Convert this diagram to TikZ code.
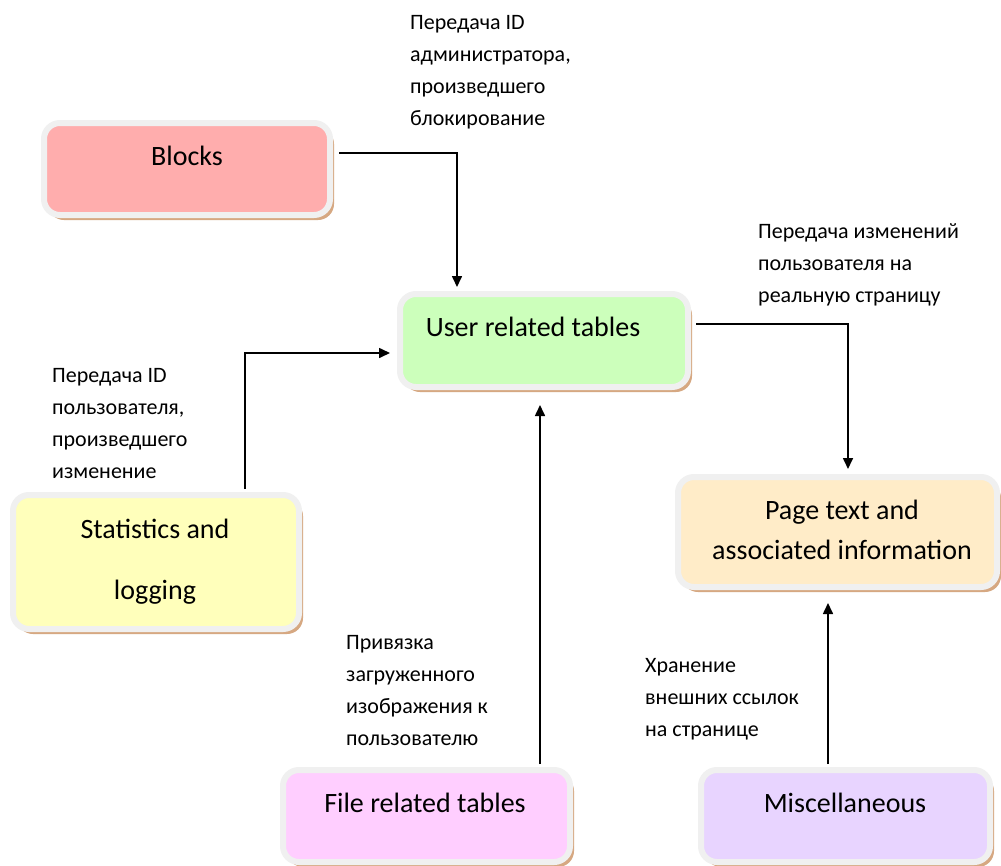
\documentclass[tikz,border=0pt]{standalone}
\usepackage{fontspec}
\setmainfont{Carlito}
\usetikzlibrary{shadows,arrows.meta}
\definecolor{boxgray}{RGB}{240,240,240}
\definecolor{shadowbrown}{RGB}{214,168,130}
\definecolor{cblocks}{RGB}{255,173,173}
\definecolor{cuser}{RGB}{204,255,187}
\definecolor{cstats}{RGB}{255,255,187}
\definecolor{cpage}{RGB}{255,236,200}
\definecolor{cfile}{RGB}{255,206,255}
\definecolor{cmisc}{RGB}{232,212,255}
\begin{document}
\begin{tikzpicture}[x=1pt,y=-1pt,
  box/.style={rectangle, rounded corners=16pt, draw=boxgray, line width=6pt, inner sep=0pt,
    drop shadow={shadow xshift=4pt, shadow yshift=-5pt, fill=shadowbrown, opacity=1}},
  boxtext/.style={font=\fontsize{28}{34}\selectfont, align=center, inner sep=0pt},
  lbl/.style={font=\fontsize{22}{32}\selectfont, align=left, anchor=north west, inner sep=0pt},
  arr/.style={line width=1.6pt, -{Triangle[length=11pt,width=10pt]}}]
\useasboundingbox (0,0) rectangle (1001,865);
\fill[white] (0,0) rectangle (1001,865);

% boxes
\node[box, fill=cblocks, minimum width=286pt, minimum height=92pt] (blocks) at (187,169) {};
\node[box, fill=cuser, minimum width=288pt, minimum height=93pt] (user) at (544,340.5) {};
\node[box, fill=cstats, minimum width=286pt, minimum height=134pt] (stats) at (156,562) {};
\node[box, fill=cpage, minimum width=319pt, minimum height=110pt] (page) at (837.5,532) {};
\node[box, fill=cfile, minimum width=287pt, minimum height=92pt] (file) at (426.5,816) {};
\node[box, fill=cmisc, minimum width=289pt, minimum height=92pt] (misc) at (845.5,816) {};

% box texts
\node[boxtext] (tblocks) at (187,156) {Blocks};
\node[boxtext] (tuser) at (533,327) {User related tables};
\node[boxtext, font=\fontsize{28}{61}\selectfont] (tstats) at (155,561.5) {Statistics and\\logging};
\node[boxtext, font=\fontsize{28}{40}\selectfont] (tpage) at (842,530) {Page text and\\associated information};
\node[boxtext] (tfile) at (425,803) {File related tables};
\node[boxtext] (tmisc) at (845,803) {Miscellaneous};

% connectors
\draw[arr] ([xshift=6pt,yshift=16pt]blocks.east) -| ([xshift=-87pt,yshift=4pt]user.north);
\draw[arr] ([xshift=89pt,yshift=3pt]stats.north) |- ([xshift=-7pt,yshift=-12.5pt]user.west);
\draw[arr] ([xshift=113.5pt,yshift=3pt]file.north) -- ([xshift=-4pt,yshift=-15pt]user.south);
\draw[arr] ([xshift=5pt,yshift=16.5pt]user.east) -| ([xshift=10.5pt,yshift=5pt]page.north);
\draw[arr] ([xshift=-17.5pt,yshift=3pt]misc.north) -- ([xshift=-9.5pt,yshift=-13pt]page.south);

% labels
\node[lbl] (l1) at (410,15) {Передача ID\\администратора,\\произведшего\\блокирование};
\node[lbl] (l2) at (758,223) {Передача изменений\\пользователя на\\реальную страницу};
\node[lbl] (l3) at (52,368) {Передача ID\\пользователя,\\произведшего\\изменение};
\node[lbl] (l4) at (346,635) {Привязка\\загруженного\\изображения к\\пользователю};
\node[lbl] (l5) at (645,658) {Хранение\\внешних ссылок\\на странице};
\end{tikzpicture}
\end{document}
